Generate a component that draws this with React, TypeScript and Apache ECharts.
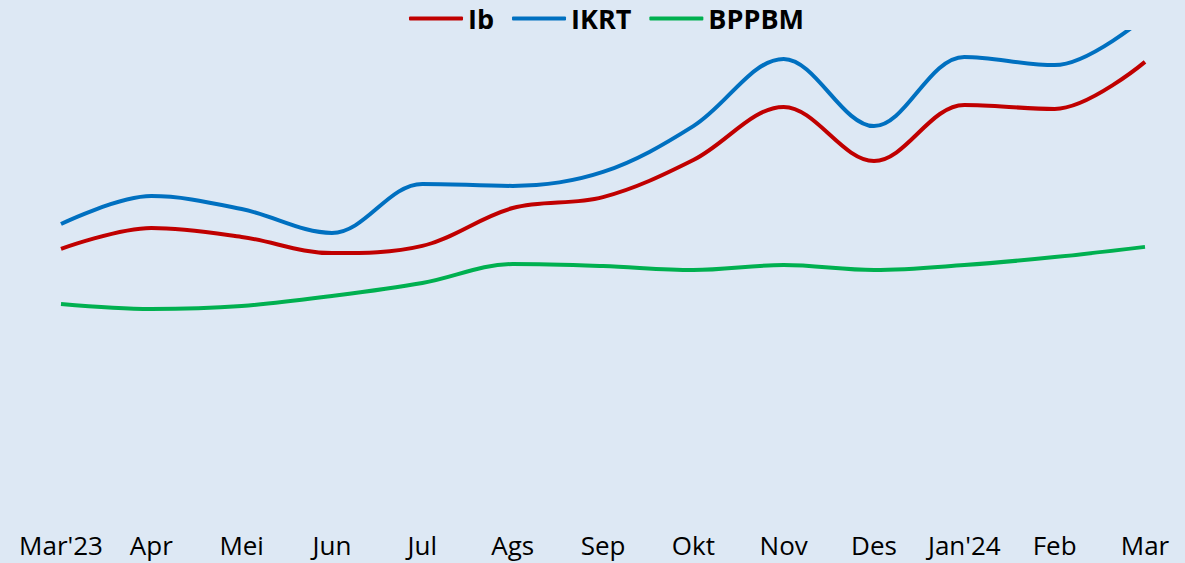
import React, { useEffect, useRef } from "react";
import * as echarts from "echarts";

const categories = ["Mar'23", "Apr", "Mei", "Jun", "Jul", "Ags", "Sep", "Okt", "Nov", "Des", "Jan'24", "Feb", "Mar"];
const ibValues = [116.29, 117.13, 116.77, 116.12, 116.41, 117.93, 118.37, 119.86, 121.99, 119.82, 122.07, 121.91, 123.8];
const ikrtValues = [117.29, 118.41, 117.89, 116.93, 118.9, 118.82, 119.38, 121.22, 123.92, 121.22, 124.0, 123.67, 125.6];
const bppbmValues = [114.08, 113.88, 114.0, 114.4, 114.92, 115.68, 115.6, 115.44, 115.64, 115.44, 115.64, 115.96, 116.37];

const FONT = "'Open Sans', 'Noto Sans', sans-serif";

export default function App() {
  const ref = useRef<HTMLDivElement>(null);
  useEffect(() => {
    document.body.style.margin = "0";
    const chart = echarts.init(ref.current!, undefined, { renderer: "svg" });
    const mk = (name: string, data: number[], color: string) => ({
      name,
      type: "line",
      data,
      smooth: 0.35,
      symbol: "none",
      lineStyle: { color, width: 4 },
      itemStyle: { color },
    });
    chart.setOption({
      animation: false,
      backgroundColor: "#dde8f4",
      textStyle: { fontFamily: FONT },
      legend: {
        top: 0,
        left: 404,
        icon: "roundRect",
        itemWidth: 54,
        itemHeight: 4,
        itemGap: 18,
        textStyle: { fontFamily: FONT, fontWeight: "bold", fontSize: 27, color: "#000" },
        data: ["Ib", "IKRT", "BPPBM"],
      },
      grid: { left: 61, right: 40, top: 32, bottom: 33 },
      xAxis: {
        type: "category",
        data: categories,
        boundaryGap: false,
        axisLine: { show: false },
        axisTick: { show: false },
        axisLabel: { fontFamily: FONT, fontSize: 26, lineHeight: 26, color: "#000", margin: 2, interval: 0 },
      },
      yAxis: {
        type: "value",
        min: 105,
        max: 125,
        show: false,
        splitLine: { show: false },
      },
      series: [
        mk("Ib", ibValues, "#c00000"),
        mk("IKRT", ikrtValues, "#0070c0"),
        mk("BPPBM", bppbmValues, "#00b050"),
      ],
    });
    return () => chart.dispose();
  }, []);
  return <div ref={ref} style={{ position: "absolute", left: 0, top: 0, width: 1185, height: 563 }} />;
}
